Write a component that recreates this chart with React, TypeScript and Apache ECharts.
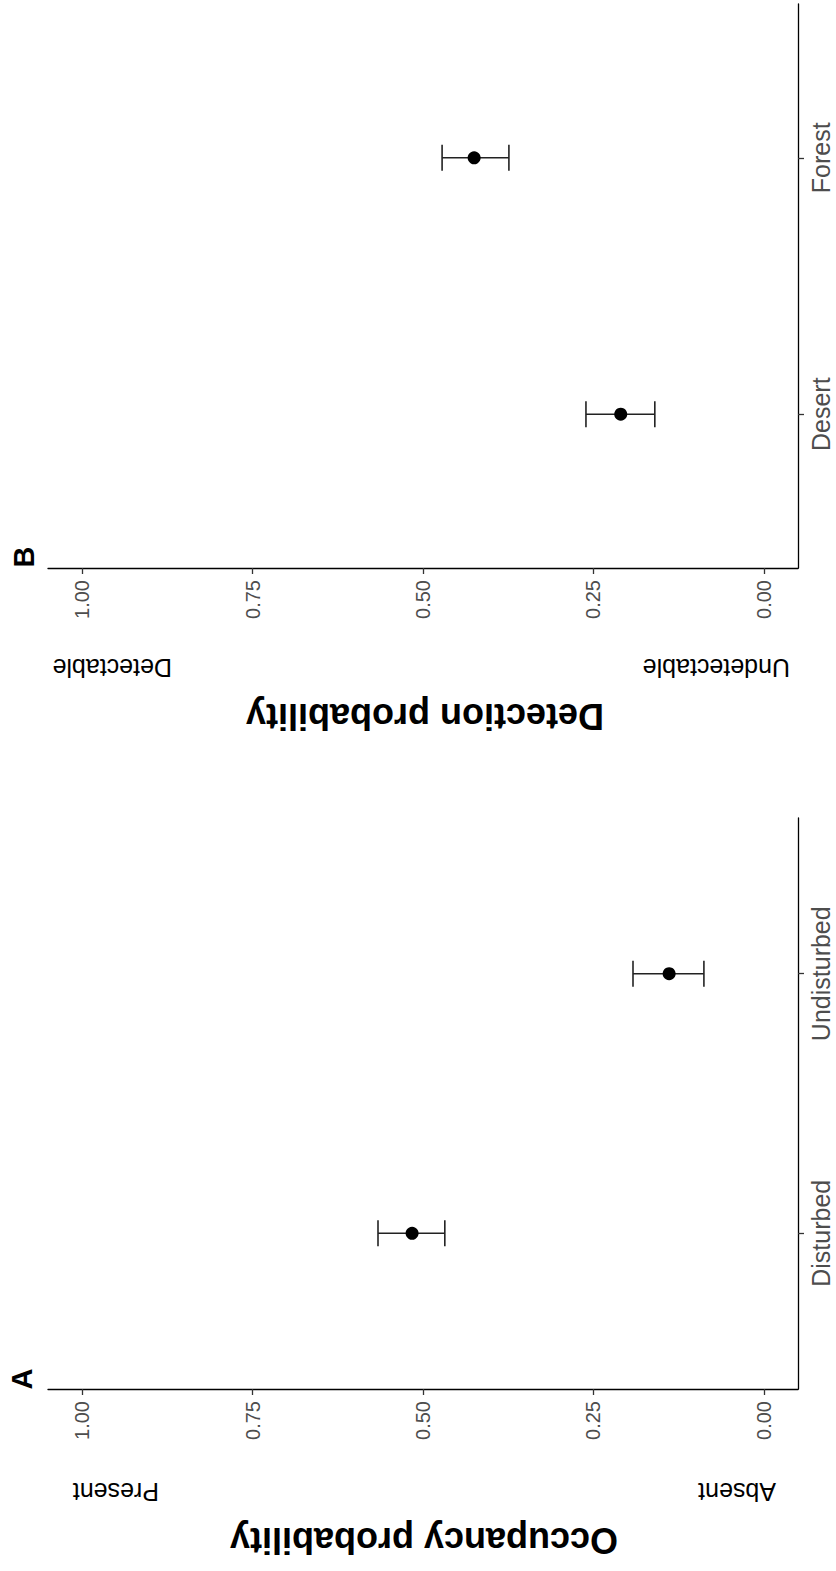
import React, { useEffect, useRef } from "react";
import * as echarts from "echarts";

const valueTicks = [0, 0.25, 0.5, 0.75, 1];
const categoryTicks = [1, 2];

const occCategories = ["Disturbed", "Undisturbed"];
const occEstimate = [0.516, 0.139];
const occLower = [0.468, 0.088];
const occUpper = [0.566, 0.192];

const detCategories = ["Desert", "Forest"];
const detEstimate = [0.21, 0.425];
const detLower = [0.16, 0.374];
const detUpper = [0.261, 0.472];

const FONT = "'Liberation Sans', Arial, sans-serif";

function xAxisFor(gridIndex: number) {
  return {
    type: "value",
    gridIndex,
    min: -0.05,
    max: 1.05,
    inverse: true,
    position: "bottom",
    axisLine: { show: true, onZero: false, lineStyle: { color: "#000", width: 1.3 } },
    axisTick: { show: true, length: 6, customValues: valueTicks, lineStyle: { color: "#333", width: 1.3 } },
    axisLabel: {
      customValues: valueTicks,
      rotate: 90,
      margin: 12,
      fontSize: 20,
      color: "#4D4D4D",
      fontFamily: FONT,
      formatter: (v: number) => v.toFixed(2),
    },
    splitLine: { show: false },
  };
}

function yAxisFor(gridIndex: number, cats: string[]) {
  return {
    type: "value",
    gridIndex,
    min: 0.4,
    max: 2.6,
    position: "right",
    axisLine: { show: true, onZero: false, lineStyle: { color: "#000", width: 1.3 } },
    axisTick: { show: true, length: 6, customValues: categoryTicks, lineStyle: { color: "#333", width: 1.3 } },
    axisLabel: {
      customValues: categoryTicks,
      rotate: 90,
      margin: 10,
      fontSize: 25,
      color: "#4D4D4D",
      fontFamily: FONT,
      formatter: (v: number) => cats[Math.round(v) - 1] ?? "",
    },
    splitLine: { show: false },
  };
}

function errorSeries(idx: number, lower: number[], upper: number[]) {
  return {
    type: "custom",
    xAxisIndex: idx,
    yAxisIndex: idx,
    z: 2,
    data: lower.map((lo, i) => [lo, i + 1, upper[i]]),
    renderItem: (params: any, api: any) => {
      const cat = api.value(1);
      const a = api.coord([api.value(0), cat]);
      const b = api.coord([api.value(2), cat]);
      const h = 13;
      const style = { stroke: "#222", lineWidth: 1.6 };
      return {
        type: "group",
        children: [
          { type: "line", shape: { x1: a[0], y1: a[1], x2: b[0], y2: b[1] }, style },
          { type: "line", shape: { x1: a[0], y1: a[1] - h, x2: a[0], y2: a[1] + h }, style },
          { type: "line", shape: { x1: b[0], y1: b[1] - h, x2: b[0], y2: b[1] + h }, style },
        ],
      };
    },
  };
}

function pointSeries(idx: number, est: number[]) {
  return {
    type: "scatter",
    xAxisIndex: idx,
    yAxisIndex: idx,
    z: 3,
    symbol: "circle",
    symbolSize: 13,
    itemStyle: { color: "#000", opacity: 1 },
    data: est.map((v, i) => [v, i + 1]),
  };
}

function upsideText(text: string, x: number, y: number, align: string, size: number, bold: boolean) {
  return {
    type: "text",
    x,
    y,
    rotation: Math.PI,
    style: {
      text,
      fill: "#000",
      font: `${bold ? "bold " : ""}${size}px ${FONT}`,
      textAlign: align,
      textVerticalAlign: "middle",
    },
  };
}

function panelLabel(text: string, x: number, y: number) {
  return {
    type: "text",
    x,
    y,
    rotation: Math.PI / 2,
    style: {
      text,
      fill: "#000",
      font: `bold 29px ${FONT}`,
      textAlign: "center",
      textVerticalAlign: "middle",
    },
  };
}

export default function App() {
  const ref = useRef<HTMLDivElement>(null);
  useEffect(() => {
    if (!ref.current) return;
    const chart = echarts.init(ref.current, null, { renderer: "svg" });
    chart.setOption({
      animation: false,
      backgroundColor: "#fff",
      grid: [
        { left: 48, right: 38, top: 4, height: 564 },
        { left: 48, right: 38, top: 818, height: 571 },
      ],
      xAxis: [xAxisFor(0), xAxisFor(1)],
      yAxis: [yAxisFor(0, detCategories), yAxisFor(1, occCategories)],
      series: [
        errorSeries(0, detLower, detUpper),
        pointSeries(0, detEstimate),
        errorSeries(1, occLower, occUpper),
        pointSeries(1, occEstimate),
      ],
      graphic: [
        panelLabel("B", 24, 557),
        panelLabel("A", 22, 1379),
        upsideText("Detectable", 172, 668, "left", 25, false),
        upsideText("Undetectable", 790, 668, "left", 25, false),
        upsideText("Detection probability", 425, 716, "center", 36, true),
        upsideText("Present", 159, 1492, "left", 25, false),
        upsideText("Absent", 776, 1492, "left", 25, false),
        upsideText("Occupancy probability", 424, 1540, "center", 36, true),
      ],
    });
    return () => chart.dispose();
  }, []);
  return (
    <div
      ref={ref}
      style={{ position: "absolute", left: 0, top: 0, width: 836, height: 1571, background: "#fff" }}
    />
  );
}
